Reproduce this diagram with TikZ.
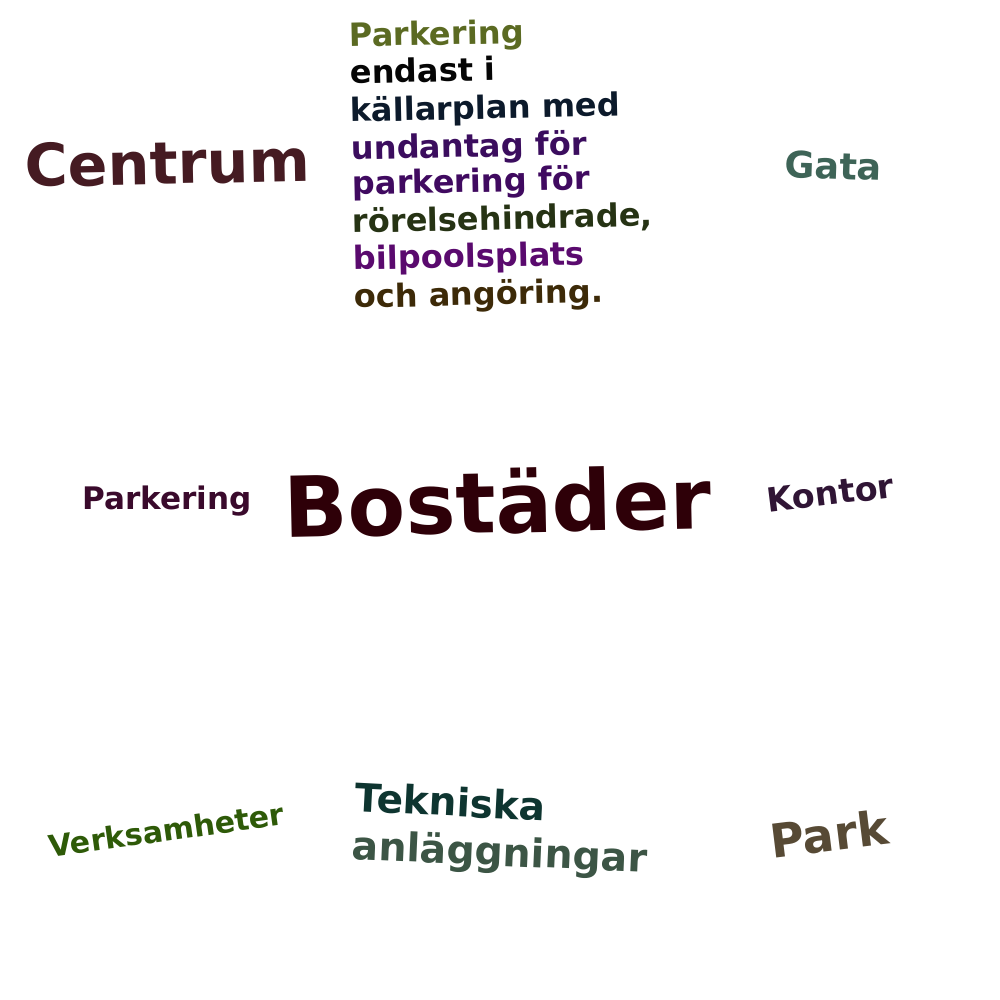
\documentclass[tikz,border=0pt]{standalone}
\usepackage{fontspec}
\setmainfont{DejaVu Sans}

\tikzset{every picture/.style={line width=0.75pt}}
\tikzset{word/.style={font=\bfseries, anchor=base, inner sep=0pt}}
\tikzset{line/.style={font=\bfseries\fontsize{24}{24}\selectfont, anchor=base west, inner sep=0pt, rotate=1.3}}

\begin{document}
\begin{tikzpicture}[x=0.75pt,y=0.75pt,yscale=-1,xscale=1]
	%set diagram left start at 0, and has height of 1000
	\useasboundingbox (0,0) rectangle (1000,1000);

	% Text Node
	\draw (498,533) node [word, rotate=1.2, color={rgb, 255:red, 46; green, 0; blue, 8 }] (bostader) {\fontsize{63}{63}\selectfont Bostäder};
	% Text Node
	\draw (168,184) node [word, rotate=1.2, color={rgb, 255:red, 69; green, 27; blue, 34 }] (centrum) {\fontsize{44}{44}\selectfont Centrum};
	% Text Node
	\draw (833,179) node [word, rotate=-2, color={rgb, 255:red, 62; green, 100; blue, 87 }] (gata) {\fontsize{27.5}{28}\selectfont Gata};
	% Text Node
	\draw (167,509) node [word, color={rgb, 255:red, 58; green, 10; blue, 44 }] (parkering) {\fontsize{23.3}{23}\selectfont Parkering};
	% Text Node
	\draw (832,505) node [word, rotate=7, color={rgb, 255:red, 48; green, 21; blue, 53 }] (kontor) {\fontsize{25}{25}\selectfont Kontor};
	% Text Node
	\draw (168,841) node [word, rotate=8, color={rgb, 255:red, 46; green, 90; blue, 8 }] (verksamheter) {\fontsize{22.5}{23}\selectfont Verksamheter};
	% Text Node
	\draw (450,816) node [word, rotate=-3, color={rgb, 255:red, 14; green, 53; blue, 48 }] (tekniska) {\fontsize{29.3}{29}\selectfont Tekniska};
	% Text Node
	\draw (499,866) node [word, rotate=-2.5, color={rgb, 255:red, 60; green, 85; blue, 69 }] (anlaggningar) {\fontsize{29.6}{30}\selectfont anläggningar};
	% Text Node
	\draw (831,851) node [word, rotate=7, color={rgb, 255:red, 87; green, 74; blue, 53 }] (park) {\fontsize{35}{35}\selectfont Park};

	% Text Node
	\draw (349,47) node [line, color={rgb, 255:red, 91; green, 106; blue, 34 }] (rad1) {Parkering};
	% Text Node
	\draw (350,84) node [line, color={rgb, 255:red, 5; green, 5; blue, 5 }] (rad2) {endast i};
	% Text Node
	\draw (350,122) node [line, color={rgb, 255:red, 12; green, 26; blue, 43 }] (rad3) {källarplan med};
	% Text Node
	\draw (351,160) node [line, color={rgb, 255:red, 59; green, 13; blue, 94 }] (rad4) {undantag för};
	% Text Node
	\draw (352,195) node [line, color={rgb, 255:red, 64; green, 10; blue, 96 }] (rad5) {parkering för};
	% Text Node
	\draw (352,233) node [line, color={rgb, 255:red, 38; green, 51; blue, 20 }] (rad6) {rörelsehindrade,};
	% Text Node
	\draw (353,270) node [line, color={rgb, 255:red, 90; green, 10; blue, 110 }] (rad7) {bilpoolsplats};
	% Text Node
	\draw (354,308) node [line, color={rgb, 255:red, 61; green, 42; blue, 8 }] (rad8) {och angöring.};

\end{tikzpicture}
\end{document}
